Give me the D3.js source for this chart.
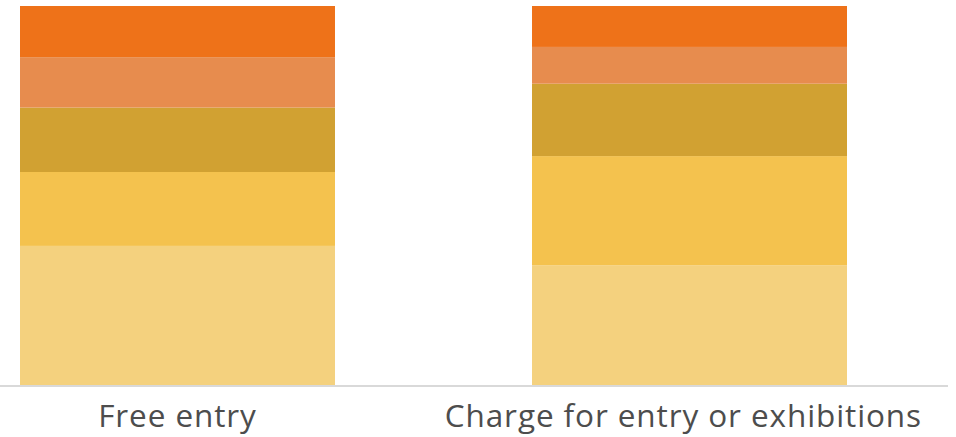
<!DOCTYPE html>
<html>
<head>
<meta charset="utf-8">
<script src="https://cdn.jsdelivr.net/npm/d3@7"></script>
<style>
  html, body { margin: 0; padding: 0; background: #ffffff; }
  svg { display: block; }
</style>
</head>
<body>
<svg id="chart" width="956" height="437"></svg>
<script>
// Categories along the x axis
const categories = ["Free entry", "Charge for entry or exhibitions"];

// Stacked shares (percent), listed from the bottom segment to the top segment
const seriesNames = ["s1", "s2", "s3", "s4", "s5"];
const seriesValues = [
  [36.7, 31.6],  // s1 (bottom)
  [19.5, 28.8],  // s2
  [17.0, 19.1],  // s3
  [13.3, 9.7],   // s4
  [13.5, 10.8]   // s5 (top)
];
const seriesColors = ["#F4D17E", "#F4C24E", "#D1A132", "#E78C4E", "#EE7219"];

const svg = d3.select("#chart");

const x = d3.scaleBand()
  .domain(categories)
  .range([20, 847])
  .paddingInner(0.3848)
  .paddingOuter(0);

const y = d3.scaleLinear()
  .domain([0, 100])
  .range([385, 6]);

// Build rows for d3.stack
const rows = categories.map((c, i) => {
  const r = { category: c };
  seriesNames.forEach((s, k) => { r[s] = seriesValues[k][i]; });
  return r;
});

const stacked = d3.stack().keys(seriesNames)(rows);

svg.append("g")
  .selectAll("g")
  .data(stacked)
  .join("g")
  .attr("fill", (d, k) => seriesColors[k])
  .selectAll("rect")
  .data(d => d)
  .join("rect")
  .attr("x", d => x(d.data.category))
  .attr("width", x.bandwidth())
  .attr("y", d => y(d[1]))
  .attr("height", d => y(d[0]) - y(d[1]));

// Baseline
svg.append("line")
  .attr("x1", 0).attr("x2", 948)
  .attr("y1", 386).attr("y2", 386)
  .attr("stroke", "#d9d9d9")
  .attr("stroke-width", 2);

// Category labels, centred under each bar but kept inside the right margin
const rightLimit = 922;
svg.append("g")
  .selectAll("text")
  .data(categories)
  .join("text")
  .attr("x", d => x(d) + x.bandwidth() / 2)
  .attr("y", 427)
  .attr("text-anchor", "middle")
  .attr("font-family", "'Open Sans', sans-serif")
  .attr("font-size", 31.5)
  .attr("letter-spacing", 0.9)
  .attr("fill", "#4d4d4d")
  .text(d => d)
  .each(function () {
    const b = this.getBBox();
    const over = b.x + b.width - rightLimit;
    if (over > 0) d3.select(this).attr("x", +this.getAttribute("x") - over);
  });
</script>
</body>
</html>
